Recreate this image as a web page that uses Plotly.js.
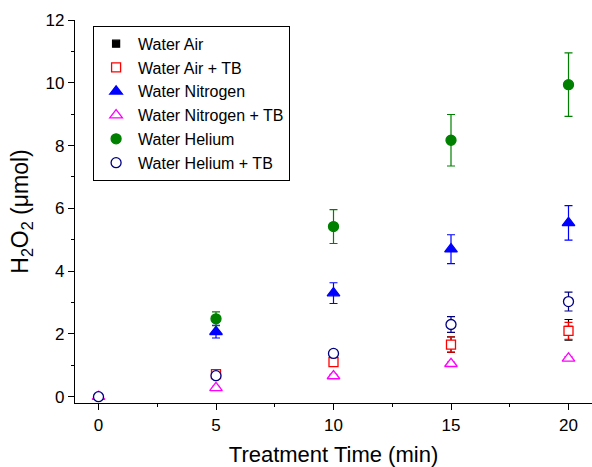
<!DOCTYPE html>
<html><head><meta charset="utf-8">
<script src="https://cdn.plot.ly/plotly-3.0.1.min.js"></script>
<style>html,body{margin:0;padding:0;background:#fff}</style>
</head><body>
<div id="chart" style="width:592px;height:467px"></div>
<script>
const times = [0, 5, 10, 15, 20];
const seriesNames = ["Water Air", "Water Air + TB", "Water Nitrogen", "Water Nitrogen + TB", "Water Helium", "Water Helium + TB"];
const waterAir = [null, 0.70, 1.15, 1.66, 2.13];
const waterAirErr = [0, 0.08, 0.14, 0.25, 0.33];
const waterAirTB = [null, 0.72, 1.10, 1.66, 2.10];
const waterAirTBErr = [0, 0.06, 0.12, 0.24, 0.27];
const waterN2 = [null, 2.07, 3.30, 4.70, 5.54];
const waterN2Err = [0, 0.20, 0.33, 0.46, 0.55];
const waterN2TB = [0, 0.28, 0.66, 1.05, 1.22];
const waterN2TBErr = [0.03, 0.05, 0.05, 0.05, 0.06];
const waterHe = [null, 2.48, 5.42, 8.17, 9.94];
const waterHeErr = [0, 0.22, 0.54, 0.82, 1.01];
const waterHeTB = [0, 0.67, 1.38, 2.30, 3.03];
const waterHeTBErr = [0.03, 0.06, 0.10, 0.25, 0.30];

const values = [waterAir, waterAirTB, waterN2, waterN2TB, waterHe, waterHeTB];
const errs = [waterAirErr, waterAirTBErr, waterN2Err, waterN2TBErr, waterHeErr, waterHeTBErr];
const colors = ["#000000", "#ff0000", "#0000ff", "#ff00ff", "#008000", "#000080"];
const fills = ["#000000", "#ffffff", "#0000ff", "#ffffff", "#008000", "#ffffff"];
const symbols = ["square", "square", "triangle-up", "triangle-up", "circle", "circle"];
const sizes = [7, 9, 11, 11, 10, 10];

const traces = seriesNames.map((n, i) => ({
  type: "scatter", mode: "markers", name: n,
  x: times, y: values[i],
  marker: {symbol: symbols[i], color: fills[i], size: sizes[i], line: {color: colors[i], width: 1.3}},
  error_y: {type: "data", array: errs[i], visible: true, color: colors[i], thickness: 1.2, width: 4}
}));

const layout = {
  width: 592, height: 467,
  margin: {l: 75, r: 0, t: 20, b: 64},
  paper_bgcolor: "#fff", plot_bgcolor: "#fff",
  font: {family: "Liberation Sans, Arial, sans-serif", color: "#000"},
  showlegend: true,
  legend: {x: 0.035, y: 0.985, xanchor: "left", yanchor: "top", bordercolor: "#000", borderwidth: 1,
    bgcolor: "#fff", font: {size: 16}, tracegroupgap: 0, itemwidth: 34},
  xaxis: {range: [-1, 21], showgrid: false, zeroline: false, showline: true, linecolor: "#000", linewidth: 1.2,
    ticks: "outside", ticklen: 6, tickcolor: "#000", tickvals: [0, 5, 10, 15, 20], tickfont: {size: 17},
    minor: {tickvals: [2.5, 7.5, 12.5, 17.5], ticks: "outside", ticklen: 3, tickcolor: "#000"},
    title: {text: "Treatment Time (min)", font: {size: 22}, standoff: 14}},
  yaxis: {range: [-0.2, 12], showgrid: false, zeroline: false, showline: true, linecolor: "#000", linewidth: 1.2,
    ticks: "outside", ticklen: 6, tickcolor: "#000", tickvals: [0, 2, 4, 6, 8, 10, 12], tickfont: {size: 17},
    minor: {tickvals: [1, 3, 5, 7, 9, 11], ticks: "outside", ticklen: 3, tickcolor: "#000"},
    title: {text: "H<sub>2</sub>O<sub>2</sub> (μmol)", font: {size: 23}, standoff: 10}}
};
Plotly.newPlot("chart", traces, layout, {displayModeBar: false, staticPlot: true});
</script>
</body></html>
